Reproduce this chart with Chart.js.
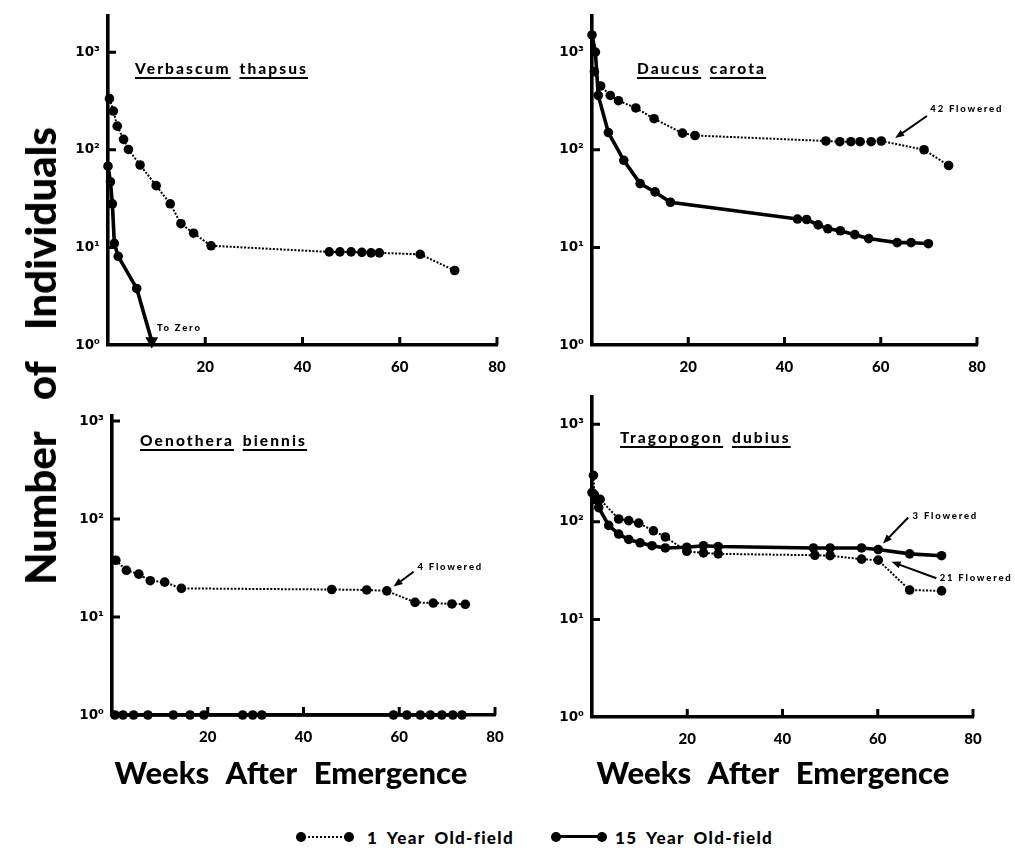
<!DOCTYPE html>
<html lang="en">
<head>
<meta charset="UTF-8" />
<title>Survivorship of four biennials</title>
<style>
  body { margin: 0; background: #fff; width: 1015px; height: 851px; position: relative; overflow: hidden;
         font-family: Lato, "DejaVu Sans", sans-serif; color: #000; }
  canvas { position: absolute; }
  .txt { position: absolute; font-weight: 900; white-space: nowrap; line-height: 1; }
  .species { font-size: 15.5px; letter-spacing: 2.1px; word-spacing: 3px; }
  .species span { text-decoration: underline; text-decoration-thickness: 1.6px; text-underline-offset: 3px; }
  .xtitle { font-size: 31px; word-spacing: 10px; transform: translate(-50%, -50%); }
  .ytitle { font-size: 42px; word-spacing: 22px; left: 40px; top: 356px; transform: translate(-50%, -50%) rotate(-90deg); }
  .legtext { font-size: 17px; letter-spacing: 1.3px; word-spacing: 4px; top: 829px; }
  .sample { position: absolute; top: 836px; height: 0; }
  .sample::before, .sample::after { content: ""; position: absolute; width: 10px; height: 10px; border-radius: 50%;
         background: #000; top: -6px; }
  .sample::before { left: -4px; }
  .sample::after { right: -4px; }
  .dotted { border-top: 2px dotted #000; }
  .solid { border-top: 3px solid #000; top: 835px; }
</style>
</head>
<body>
  <canvas id="verbascum"></canvas>
  <canvas id="daucus"></canvas>
  <canvas id="oenothera"></canvas>
  <canvas id="tragopogon"></canvas>

  <div class="txt species" style="left:135px; top:61px;"><span>Verbascum</span> <span>thapsus</span></div>
  <div class="txt species" style="left:637px; top:61px;"><span>Daucus</span> <span>carota</span></div>
  <div class="txt species" style="left:140px; top:433px;"><span>Oenothera</span> <span>biennis</span></div>
  <div class="txt species" style="left:620px; top:430px;"><span>Tragopogon</span> <span>dubius</span></div>

  <div class="txt ytitle">Number of Individuals</div>
  <div class="txt xtitle" style="left:291px; top:772px;">Weeks After Emergence</div>
  <div class="txt xtitle" style="left:773px; top:772px;">Weeks After Emergence</div>

  <div class="sample dotted" style="left:300px; width:50px;"></div>
  <div class="txt legtext" style="left:367px;">1 Year Old-field</div>
  <div class="sample solid" style="left:555px; width:48px;"></div>
  <div class="txt legtext" style="left:615px;">15 Year Old-field</div>

  <script src="https://cdn.jsdelivr.net/npm/chart.js"></script>
  <script>
    // Verbascum thapsus
    const verbascumWeeks1 = [0.3, 1.1, 1.9, 3.2, 4.2, 6.6, 9.9, 12.8, 15.0, 17.6, 21.2, 45.5, 47.7, 50.0, 52.2, 54.1, 55.8, 64.2, 71.3];
    const verbascumCount1 = [335, 250, 175, 128, 101, 70, 43, 28, 17.5, 14, 10.4, 9.0, 9.0, 9.0, 8.9, 8.8, 8.8, 8.5, 5.8];
    const verbascumWeeks15 = [0, 0.5, 0.9, 1.3, 2.1, 5.9, 9.0];
    const verbascumCount15 = [68, 47, 28, 11, 8.1, 3.8, 1.1];

    // Daucus carota
    const daucusWeeks1 = [0.5, 1.8, 3.8, 5.5, 9.1, 12.9, 18.8, 21.4, 48.6, 51.5, 53.8, 55.7, 58.0, 60.1, 69.0, 74.1];
    const daucusCount1 = [630, 450, 360, 318, 268, 208, 148, 140, 123, 121, 121, 121, 121, 123, 100, 69];
    const daucusWeeks15 = [0, 0.7, 1.3, 3.4, 6.6, 10.0, 13.1, 16.3, 42.7, 44.6, 47.0, 49.0, 51.6, 54.6, 57.5, 63.4, 66.3, 69.9];
    const daucusCount15 = [1500, 1000, 360, 150, 78, 45, 37, 29, 19.5, 19.3, 17, 15.5, 14.8, 13.5, 12.3, 11.2, 11.2, 10.9];

    // Oenothera biennis
    const oenotheraWeeks1 = [0.8, 3.0, 5.6, 8.0, 11.0, 14.5, 45.9, 53.2, 57.4, 63.3, 67.1, 71.0, 73.8];
    const oenotheraCount1 = [38, 30, 27.4, 23.5, 22.7, 19.6, 19.1, 18.9, 18.5, 14.1, 13.9, 13.6, 13.5];
    const oenotheraWeeks15 = [0.6, 2.3, 4.5, 7.5, 12.8, 16.3, 19.2, 27.3, 29.4, 31.3, 58.8, 61.6, 64.4, 66.5, 68.9, 71.2, 73.1];
    const oenotheraCount15 = [1, 1, 1, 1, 1, 1, 1, 1, 1, 1, 1, 1, 1, 1, 1, 1, 1];

    // Tragopogon dubius
    const tragopogonWeeks1 = [0.3, 0.5, 1.7, 5.6, 7.7, 9.8, 12.9, 15.4, 19.9, 23.4, 26.5, 46.8, 50.0, 56.6, 60.1, 66.7, 73.4];
    const tragopogonCount1 = [300, 190, 170, 107, 103, 97, 81, 70, 50, 48, 47, 45.5, 45, 41.5, 40.5, 20, 19.6];
    const tragopogonWeeks15 = [0, 0.6, 1.4, 3.5, 5.6, 7.7, 10.1, 12.6, 15.4, 19.9, 23.4, 26.5, 46.5, 50.0, 56.6, 60.1, 66.7, 73.4];
    const tragopogonCount15 = [200, 170, 140, 92, 75, 66, 61, 57, 54, 55, 57, 56, 54, 54, 54, 52, 47, 45];

    const xTicks = [20, 40, 60, 80];
    const yTicks = [1, 10, 100, 1000];
    const SUP = ['\u2070', '\u00b9', '\u00b2', '\u00b3'];

    const FONT = 'Lato, "DejaVu Sans", sans-serif';

    const pairs = (xs, ys) => xs.map((x, i) => ({ x: x, y: ys[i] }));

    // small inward tick marks on both axes
    const inwardTicks = {
      id: 'inwardTicks',
      afterDraw(chart) {
        const { ctx, scales: { x, y } } = chart;
        ctx.save();
        ctx.strokeStyle = '#000';
        ctx.lineWidth = 3;
        ctx.beginPath();
        yTicks.slice(1).forEach(v => {
          const py = y.getPixelForValue(v);
          ctx.moveTo(x.left, py); ctx.lineTo(x.left + 8, py);
        });
        xTicks.forEach(v => {
          const px = x.getPixelForValue(v);
          ctx.moveTo(px, y.bottom); ctx.lineTo(px, y.bottom - 8);
        });
        ctx.stroke();
        ctx.restore();
      }
    };

    // "Flowered" notes with arrows, placed in data units
    function notesPlugin(notes) {
      return {
        id: 'notes',
        afterDatasetsDraw(chart) {
          const { ctx, scales: { x, y } } = chart;
          ctx.save();
          ctx.fillStyle = '#000';
          ctx.strokeStyle = '#000';
          ctx.font = '900 9.5px ' + FONT;
          ctx.letterSpacing = '1.8px';
          ctx.textBaseline = 'middle';
          notes.forEach(n => {
            ctx.fillText(n.text, x.getPixelForValue(n.at[0]), y.getPixelForValue(n.at[1]));
            if (!n.from) return;
            const x1 = x.getPixelForValue(n.from[0]), y1 = y.getPixelForValue(n.from[1]);
            const x2 = x.getPixelForValue(n.to[0]), y2 = y.getPixelForValue(n.to[1]);
            const a = Math.atan2(y2 - y1, x2 - x1);
            ctx.lineWidth = 2;
            ctx.beginPath();
            ctx.moveTo(x1, y1);
            ctx.lineTo(x2 - 6 * Math.cos(a), y2 - 6 * Math.sin(a));
            ctx.stroke();
            ctx.beginPath();
            ctx.moveTo(x2, y2);
            ctx.lineTo(x2 - 9 * Math.cos(a) + 3.5 * Math.sin(a), y2 - 9 * Math.sin(a) - 3.5 * Math.cos(a));
            ctx.lineTo(x2 - 9 * Math.cos(a) - 3.5 * Math.sin(a), y2 - 9 * Math.sin(a) + 3.5 * Math.cos(a));
            ctx.closePath();
            ctx.fill();
          });
          ctx.restore();
        }
      };
    }

    function panel(id, area, yMax, oneYear, fifteenYear, notes, arrowEnd) {
      const M = { l: 72, t: Math.min(12, area.top), r: 56, b: 46 };
      const cv = document.getElementById(id);
      const w = area.right - area.left + M.l + M.r;
      const h = area.bottom - area.top + M.t + M.b;
      cv.width = w; cv.height = h;
      cv.style.width = w + 'px'; cv.style.height = h + 'px';
      cv.style.left = (area.left - M.l) + 'px';
      cv.style.top = (area.top - M.t) + 'px';

      const last = fifteenYear.length - 1;
      new Chart(cv, {
        type: 'line',
        data: {
          datasets: [{
            label: '1 Year Old-field',
            data: oneYear,
            borderColor: '#000',
            backgroundColor: '#000',
            borderWidth: 2,
            borderDash: [2, 1.6],
            pointRadius: 4.8,
            pointBorderWidth: 0,
            tension: 0,
            clip: false
          }, {
            label: '15 Year Old-field',
            data: fifteenYear,
            borderColor: '#000',
            backgroundColor: '#000',
            borderWidth: 3.6,
            pointRadius: c => (arrowEnd && c.dataIndex === last) ? 7.5 : 4.8,
            pointStyle: c => (arrowEnd && c.dataIndex === last) ? 'triangle' : 'circle',
            pointRotation: c => (arrowEnd && c.dataIndex === last) ? 180 : 0,
            pointBorderWidth: 0,
            tension: 0,
            clip: false
          }]
        },
        options: {
          responsive: false,
          animation: false,
          devicePixelRatio: 1,
          events: [],
          layout: { padding: { top: M.t, right: M.r, left: 0, bottom: 0 } },
          plugins: { legend: { display: false }, tooltip: { enabled: false } },
          scales: {
            x: {
              type: 'linear', min: 0, max: 80,
              afterFit(s) { s.height = M.b; },
              afterBuildTicks(s) { s.ticks = [0].concat(xTicks).map(v => ({ value: v })); },
              ticks: {
                padding: 13, color: '#000', maxRotation: 0, autoSkip: false,
                font: { family: FONT, size: 15, weight: '900' },
                callback: v => v === 0 ? '' : String(v)
              },
              grid: { drawOnChartArea: false, drawTicks: false },
              border: { color: '#000', width: 3.6 }
            },
            y: {
              type: 'logarithmic', min: 1, max: yMax,
              afterFit(s) { s.width = M.l; },
              afterBuildTicks(s) { s.ticks = yTicks.map(v => ({ value: v })); },
              ticks: {
                padding: 8, color: '#000', autoSkip: false,
                font: { family: '"DejaVu Sans", sans-serif', size: 13.5, weight: 'bold' },
                callback: v => '10' + SUP[Math.round(Math.log10(v))]
              },
              grid: { drawOnChartArea: false, drawTicks: false },
              border: { color: '#000', width: 3.6 }
            }
          }
        },
        plugins: [inwardTicks, notesPlugin(notes)]
      });
    }

    panel('verbascum', { left: 108, right: 497, top: 10, bottom: 345 }, 2350,
      pairs(verbascumWeeks1, verbascumCount1), pairs(verbascumWeeks15, verbascumCount15),
      [{ text: 'To Zero', at: [10.1, 1.5] }], true);

    panel('daucus', { left: 592, right: 977, top: 8, bottom: 345 }, 2340,
      pairs(daucusWeeks1, daucusCount1), pairs(daucusWeeks15, daucusCount15),
      [{ text: '42 Flowered', at: [70.3, 262], from: [69.6, 222], to: [63.0, 132] }], false);

    panel('oenothera', { left: 112, right: 495, top: 412, bottom: 715 }, 1125,
      pairs(oenotheraWeeks1, oenotheraCount1), pairs(oenotheraWeeks15, oenotheraCount15),
      [{ text: '4 Flowered', at: [63.8, 32.5], from: [63.0, 29], to: [58.8, 20.5] }], false);

    panel('tragopogon', { left: 592, right: 973, top: 393, bottom: 717 }, 1900,
      pairs(tragopogonWeeks1, tragopogonCount1), pairs(tragopogonWeeks15, tragopogonCount15),
      [{ text: '3 Flowered', at: [67.3, 116], from: [66.4, 111], to: [61.1, 60] },
       { text: '21 Flowered', at: [73.0, 26.4], from: [72.3, 26.4], to: [62.9, 39] }], false);
  </script>
</body>
</html>
